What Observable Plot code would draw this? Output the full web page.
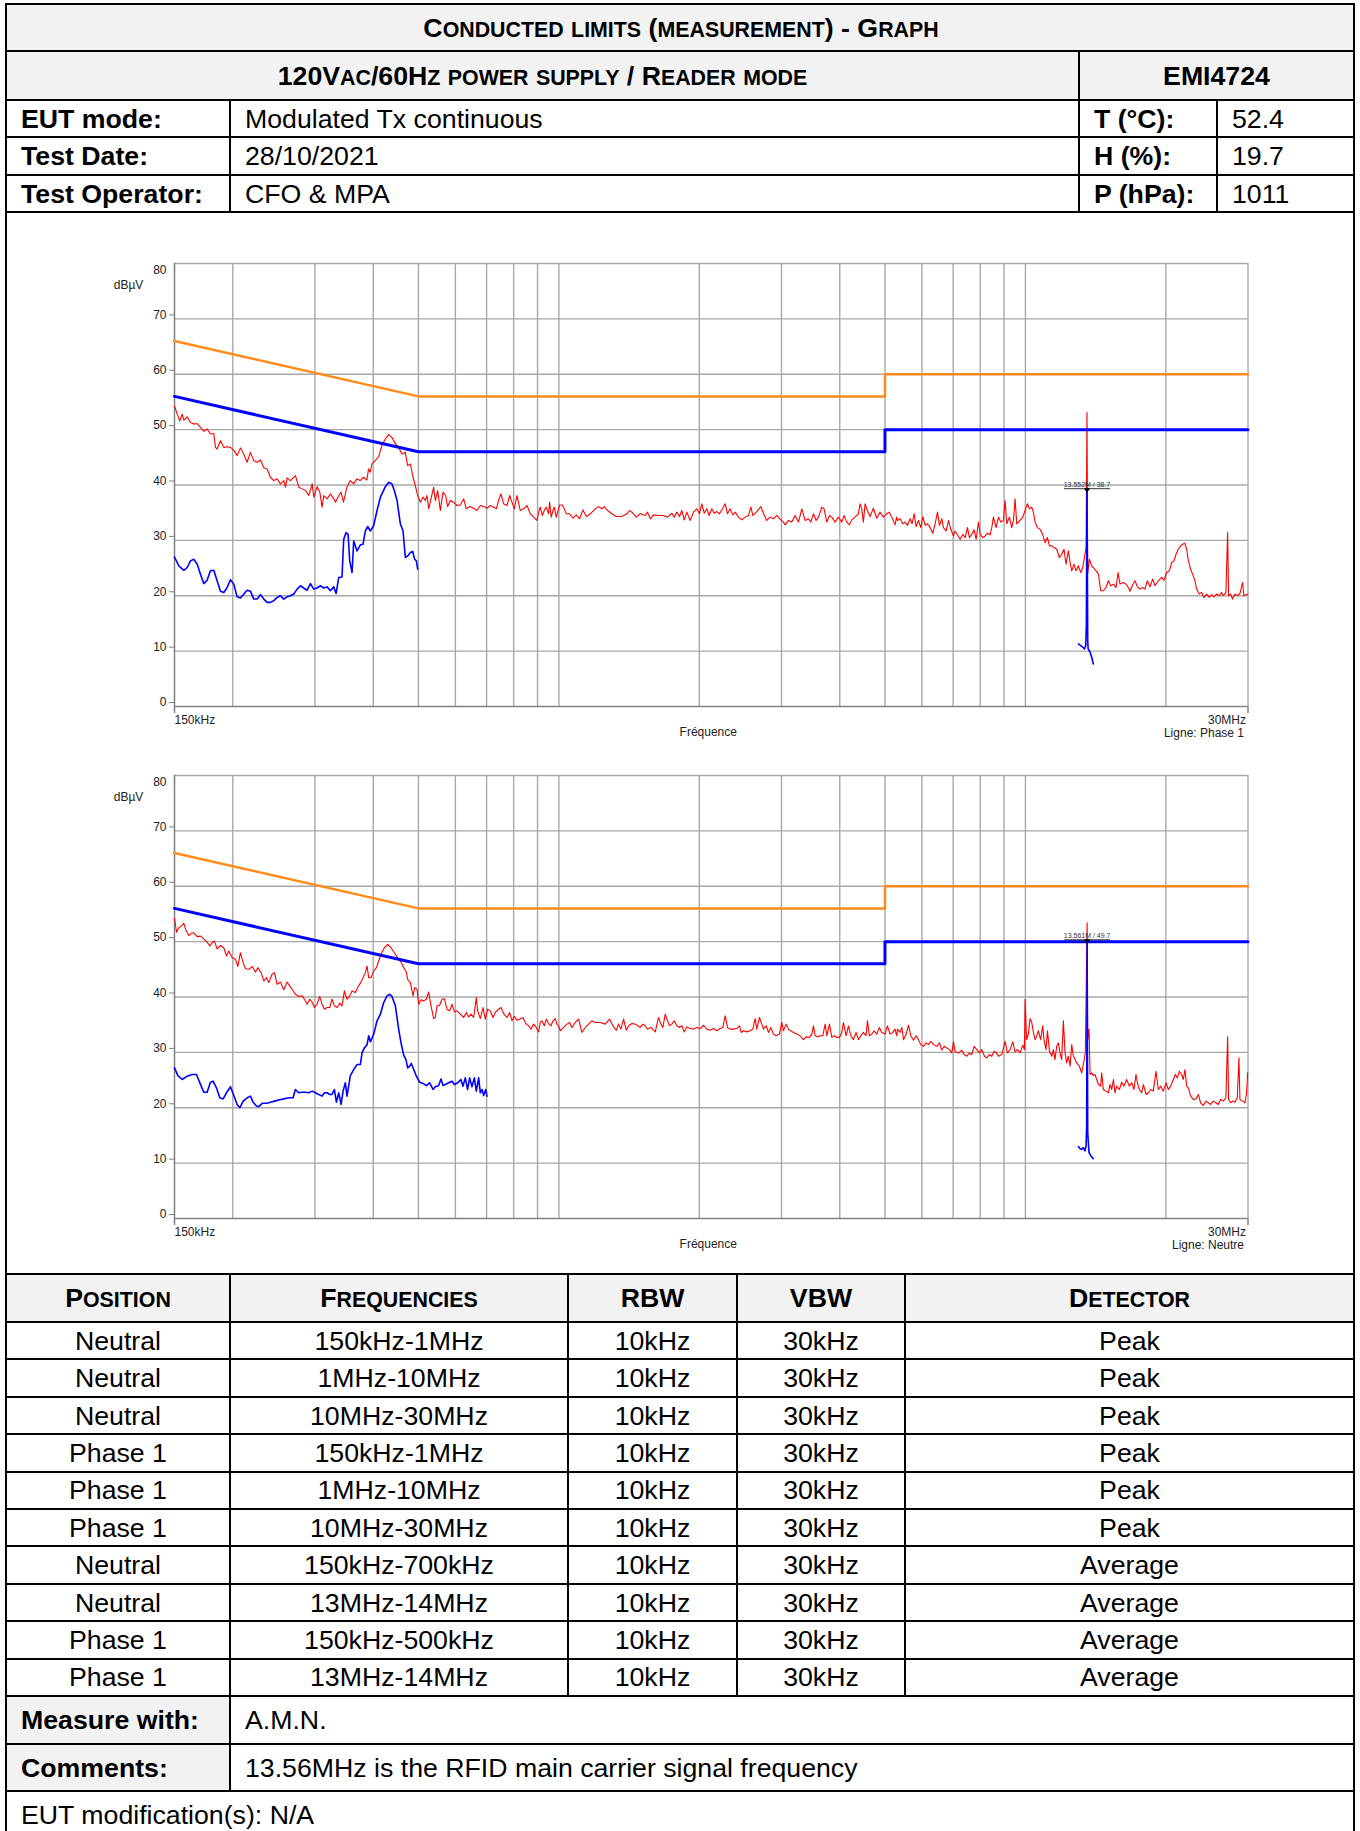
<!DOCTYPE html>
<html><head><meta charset="utf-8">
<script src="https://cdn.jsdelivr.net/npm/d3@7"></script>
<script src="https://cdn.jsdelivr.net/npm/@observablehq/plot@0.6"></script>
<style>
html,body{margin:0;padding:0;background:#fff;}
#page{position:relative;width:1360px;height:1831px;overflow:hidden;font-family:"Liberation Sans",Arial,Helvetica,sans-serif;color:#000;}
.tx{position:absolute;font-size:26.7px;line-height:1;white-space:nowrap;}
</style></head><body>
<div id="page"></div>
<script>
// ---------- chart data (frequency in MHz, level in dBµV) ----------
const xGrid = [0.2,0.3,0.4,0.5,0.6,0.7,0.8,0.9,1,2,3,4,5,6,7,8,9,10,20,30];
const yGrid = [10,20,30,40,50,60,70,80];
const yTickLabels = [0,10,20,30,40,50,60,70];
const yTopLabel = [80];
const xEnds = [0.15,30];
const qpLimit = [[0.15,66],[0.5,56],[5,56],[5,60],[30,60]];
const avLimit = [[0.15,56],[0.5,46],[5,46],[5,50],[30,50]];

const phase1Peak = [[0.150,54.3],[0.152,52.8],[0.154,51.6],[0.1558,52.8],[0.1571,51.7],[0.1597,52.3],[0.1623,51.3],[0.165,51.0],[0.1677,51.1],[0.1705,50.4],[0.1733,49.7],[0.1762,50.1],[0.1791,49.2],[0.1821,49.3],[0.1836,46.8],[0.1851,46.5],[0.1882,48.0],[0.1913,46.8],[0.1945,46.9],[0.1977,46.8],[0.201,46.3],[0.2043,45.3],[0.2077,46.7],[0.2111,45.6],[0.2146,44.1],[0.2182,45.9],[0.2218,44.4],[0.2255,44.1],[0.2292,44.5],[0.233,43.1],[0.2369,42.9],[0.2408,41.4],[0.2448,40.8],[0.2489,41.1],[0.253,40.2],[0.2572,40.8],[0.2594,39.6],[0.2615,41.3],[0.2658,40.8],[0.2725,41.7],[0.277,39.6],[0.2816,39.3],[0.2863,39.0],[0.291,38.1],[0.2959,40.2],[0.2983,37.8],[0.3033,39.7],[0.3073,38.7],[0.3108,36.0],[0.3134,38.1],[0.3186,37.5],[0.3239,38.4],[0.3293,37.5],[0.332,36.9],[0.3375,38.1],[0.3411,38.7],[0.3455,36.9],[0.3513,39.6],[0.3571,40.8],[0.363,40.2],[0.369,41.1],[0.3752,40.8],[0.3814,41.4],[0.3877,40.9],[0.3909,42.9],[0.3942,42.3],[0.3974,43.8],[0.404,44.4],[0.4107,45.1],[0.4175,47.1],[0.4244,48.3],[0.4315,49.1],[0.4386,48.6],[0.4459,47.5],[0.4533,46.8],[0.4608,45.6],[0.4685,45.9],[0.4741,43.5],[0.4804,43.8],[0.4868,41.4],[0.4924,39.9],[0.4981,38.1],[0.5047,36.9],[0.5114,37.8],[0.5173,37.2],[0.5216,38.1],[0.5259,35.7],[0.532,37.5],[0.539,39.6],[0.5435,37.2],[0.5498,39.0],[0.5571,35.4],[0.5645,38.7],[0.5719,38.1],[0.5776,36.1],[0.5853,37.2],[0.5949,36.9],[0.6048,36.3],[0.6148,36.4],[0.6251,37.5],[0.6333,35.7],[0.6438,36.1],[0.6567,35.8],[0.6675,35.4],[0.6786,36.3],[0.6898,36.1],[0.7012,35.8],[0.713,36.3],[0.7246,36.0],[0.7342,35.7],[0.7427,37.2],[0.7513,38.4],[0.7612,36.6],[0.7739,36.3],[0.7842,38.1],[0.7932,36.9],[0.8024,35.7],[0.813,38.1],[0.8264,35.4],[0.8402,35.7],[0.8541,36.3],[0.8684,34.8],[0.8827,34.2],[0.8972,33.6],[0.9091,35.7],[0.9123,36.0],[0.9214,34.5],[0.9305,35.4],[0.9397,36.0],[0.9506,34.8],[0.9552,36.9],[0.9632,34.2],[0.9712,35.4],[0.9775,36.0],[0.9872,34.2],[0.9987,35.7],[1.0035,36.4],[1.0152,36.4],[1.0235,36.0],[1.0371,34.8],[1.0544,34.8],[1.0718,34.0],[1.0895,34.6],[1.1077,33.9],[1.1261,35.5],[1.1448,34.3],[1.1675,34.8],[1.1967,35.7],[1.2166,36.1],[1.2367,35.7],[1.251,36.1],[1.2716,35.4],[1.2991,34.8],[1.3273,34.3],[1.365,34.3],[1.3991,34.8],[1.4175,35.4],[1.4339,35.1],[1.465,34.2],[1.4939,34.8],[1.5312,34.5],[1.5489,35.1],[1.5694,33.9],[1.5956,34.6],[1.6354,34.5],[1.6761,34.5],[1.7096,34.2],[1.7467,34.9],[1.7665,34.2],[1.7902,35.1],[1.8138,34.3],[1.8348,35.4],[1.856,33.7],[1.8806,35.1],[1.9116,33.6],[1.9436,35.1],[1.9757,35.7],[2.0018,34.8],[2.0249,36.6],[2.0484,34.9],[2.0755,35.7],[2.0995,34.5],[2.1272,35.7],[2.1518,34.9],[2.1803,35.2],[2.2096,34.8],[2.2425,35.7],[2.2721,36.6],[2.2984,34.8],[2.3288,35.7],[2.3595,34.6],[2.3869,35.1],[2.4267,34.2],[2.4668,33.7],[2.5075,34.2],[2.5494,34.5],[2.579,36.0],[2.6047,34.5],[2.6562,35.2],[2.7093,36.1],[2.7448,34.9],[2.7902,33.6],[2.8368,34.2],[2.8837,33.9],[2.9319,34.5],[2.9899,33.7],[3.0294,33.3],[3.0546,32.8],[3.1057,33.6],[3.1569,33.3],[3.209,34.5],[3.2626,33.3],[3.3165,35.7],[3.3719,33.6],[3.4276,33.9],[3.4673,33.3],[3.5131,34.8],[3.5596,33.6],[3.6007,34.2],[3.6609,36.0],[3.7025,35.7],[3.7524,33.3],[3.8016,34.5],[3.8456,34.2],[3.9089,33.3],[3.9743,34.2],[4.0399,33.3],[4.0866,34.5],[4.1408,33.3],[4.1949,32.8],[4.2434,33.7],[4.3144,34.2],[4.3855,34.8],[4.4221,36.6],[4.4578,35.7],[4.4949,33.3],[4.5324,36.6],[4.5849,35.4],[4.6455,34.3],[4.7219,35.8],[4.8009,34.0],[4.8801,35.1],[4.9605,34.2],[5.0433,34.8],[5.11,35.1],[5.1692,34.2],[5.2545,32.8],[5.2983,34.2],[5.318,33.6],[5.388,33.9],[5.46,33.0],[5.523,33.3],[5.587,32.7],[5.661,33.9],[5.718,33.0],[5.774,34.8],[5.831,32.5],[5.899,33.6],[5.967,32.3],[6.027,34.3],[6.097,32.7],[6.167,33.0],[6.249,32.3],[6.331,31.3],[6.404,33.0],[6.479,35.1],[6.543,32.7],[6.619,33.9],[6.673,32.3],[6.763,31.7],[6.841,33.6],[6.92,32.0],[7.012,30.8],[7.069,31.7],[7.151,31.0],[7.246,30.2],[7.343,31.1],[7.427,30.5],[7.512,32.3],[7.586,30.5],[7.674,31.1],[7.763,31.9],[7.841,30.2],[7.932,33.3],[7.998,31.1],[8.103,30.5],[8.197,30.8],[8.292,31.3],[8.401,31.0],[8.471,32.3],[8.539,34.2],[8.654,32.3],[8.754,34.2],[8.853,33.3],[8.972,33.6],[9.045,37.2],[9.121,33.0],[9.241,34.2],[9.348,32.3],[9.426,33.6],[9.504,37.5],[9.581,33.0],[9.741,33.6],[9.87,34.2],[9.984,35.4],[10.1,36.6],[10.2,35.7],[10.32,36.0],[10.4,35.1],[10.49,33.3],[10.61,32.3],[10.75,32.0],[10.89,31.1],[11.02,29.6],[11.15,30.5],[11.26,29.0],[11.39,29.0],[11.52,28.7],[11.67,28.4],[11.83,26.9],[11.96,27.5],[12.1,28.4],[12.22,25.7],[12.36,28.1],[12.47,26.0],[12.57,24.5],[12.71,25.7],[12.84,24.5],[12.99,25.4],[13.14,24.2],[13.27,25.1],[13.38,26.9],[13.49,28.7],[13.552,53.1],[13.6,24.0],[13.71,26.6],[13.87,25.4],[13.98,25.1],[14.17,24.5],[14.34,23.9],[14.5,20.9],[14.69,20.9],[14.89,21.5],[15.06,22.7],[15.23,21.8],[15.44,22.1],[15.64,21.5],[15.8,24.2],[15.95,22.1],[16.21,22.4],[16.43,22.1],[16.62,21.5],[16.76,20.8],[16.98,22.0],[17.18,22.7],[17.38,21.6],[17.6,21.2],[17.84,21.5],[18.04,21.2],[18.25,22.7],[18.49,21.6],[18.74,23.0],[18.96,21.8],[19.27,22.7],[19.59,23.3],[19.82,22.8],[20.08,24.2],[20.35,24.5],[20.58,26.0],[20.82,26.3],[21.03,27.5],[21.27,28.4],[21.52,29.0],[21.73,29.3],[21.95,29.5],[22.17,28.4],[22.35,26.3],[22.6,24.8],[22.83,23.9],[23.09,22.7],[23.28,21.2],[23.59,20.3],[23.86,20.6],[24.14,19.7],[24.46,20.3],[24.78,19.7],[25.07,20.2],[25.36,19.8],[25.69,20.3],[26.03,20.0],[26.33,20.6],[26.55,20.0],[26.9,20.6],[27.13,31.4],[27.26,20.0],[27.53,20.3],[27.8,19.4],[28.13,20.3],[28.45,20.0],[28.83,20.4],[29.21,22.4],[29.4,20.0],[30,20.3]];

const phase1AvgLow = [[0.150,27.0],[0.1532,25.4],[0.1571,24.6],[0.1597,25.1],[0.1623,26.3],[0.165,26.6],[0.1678,25.7],[0.1705,23.9],[0.1733,22.2],[0.1762,22.8],[0.1791,24.5],[0.1821,24.6],[0.1851,22.7],[0.1882,20.8],[0.1913,20.6],[0.1945,21.5],[0.1977,22.9],[0.201,22.1],[0.2043,19.8],[0.2077,19.6],[0.2112,20.3],[0.2147,21.0],[0.2183,20.8],[0.2218,19.4],[0.2255,19.4],[0.2293,20.2],[0.2331,19.4],[0.2369,18.8],[0.2408,18.8],[0.2448,19.1],[0.2489,19.7],[0.253,20.0],[0.2572,19.4],[0.2615,19.8],[0.2658,20.0],[0.2702,20.3],[0.2747,21.2],[0.2793,21.8],[0.2838,21.4],[0.2886,21.0],[0.2934,22.2],[0.2982,21.2],[0.3032,21.4],[0.3082,21.8],[0.3133,21.4],[0.3185,21.6],[0.3238,20.9],[0.3291,21.6],[0.333,20.4],[0.3374,23.3],[0.3429,23.4],[0.3458,30.2],[0.3498,31.4],[0.3533,31.1],[0.3562,26.3],[0.3603,24.2],[0.3633,29.9],[0.3663,29.0],[0.3693,28.1],[0.3754,29.2],[0.3804,29.3],[0.3848,31.7],[0.3892,32.5],[0.3944,31.7],[0.401,32.7],[0.4076,35.4],[0.4144,37.8],[0.4247,39.7],[0.4317,40.5],[0.4388,40.2],[0.4439,39.0],[0.4499,37.2],[0.4573,33.0],[0.4634,31.7],[0.4687,26.9],[0.4741,27.2],[0.4804,27.8],[0.486,28.0],[0.4908,26.6],[0.4949,26.3],[0.4981,24.8]];
const phase1AvgRfid = [[12.99,11.3],[13.14,11.0],[13.27,10.7],[13.38,10.4],[13.47,11.0],[13.51,14.9],[13.552,38.7],[13.6,12.0],[13.63,10.4],[13.76,9.8],[13.87,8.9],[13.98,7.7]];
const phase1Marker = [{f:13.552, db:38.7, label:"13.552M / 38.7"}];

const neutralPeak = [[0.150,54.2],[0.1515,51.7],[0.1532,52.5],[0.155,52.8],[0.1571,53.3],[0.1584,52.2],[0.161,51.1],[0.1628,51.5],[0.165,51.6],[0.1678,50.9],[0.1705,51.0],[0.1733,50.5],[0.1762,49.9],[0.1786,49.2],[0.1806,49.8],[0.1827,50.1],[0.1851,48.7],[0.1882,49.3],[0.1913,48.9],[0.1939,47.4],[0.1961,48.3],[0.1994,47.1],[0.2027,46.8],[0.205,45.5],[0.2077,48.0],[0.2105,46.2],[0.2129,45.1],[0.2165,45.0],[0.2201,45.5],[0.2237,44.5],[0.2263,45.3],[0.23,44.4],[0.2331,42.9],[0.2362,43.5],[0.2389,42.6],[0.2428,44.1],[0.2457,44.4],[0.2489,42.3],[0.253,42.7],[0.2572,41.3],[0.2615,42.7],[0.2649,42.0],[0.268,41.4],[0.2724,40.5],[0.2769,40.1],[0.2816,40.2],[0.2848,39.6],[0.2886,38.7],[0.2924,39.6],[0.2958,39.1],[0.2992,38.1],[0.3032,38.7],[0.3072,40.1],[0.3107,38.7],[0.3143,37.8],[0.3185,38.1],[0.3227,38.1],[0.3264,39.6],[0.3302,38.4],[0.3346,38.1],[0.339,38.9],[0.3429,38.4],[0.3469,41.1],[0.3515,39.6],[0.3562,40.2],[0.3603,41.1],[0.3663,40.8],[0.3705,41.7],[0.3754,42.5],[0.3804,43.5],[0.3848,44.4],[0.388,45.6],[0.3912,43.5],[0.3957,43.5],[0.401,44.7],[0.4063,45.3],[0.411,46.5],[0.4157,47.7],[0.4226,48.9],[0.4296,49.5],[0.4367,48.9],[0.4439,48.0],[0.4514,47.1],[0.4588,46.3],[0.4649,45.3],[0.471,44.5],[0.4741,43.2],[0.4804,42.6],[0.4868,40.2],[0.4908,41.7],[0.4965,41.4],[0.5006,38.7],[0.5064,39.5],[0.5131,39.3],[0.5199,39.6],[0.5259,40.9],[0.532,38.4],[0.539,36.1],[0.5435,36.3],[0.5479,38.4],[0.5552,38.5],[0.5616,39.6],[0.5681,39.7],[0.5756,37.8],[0.5834,37.5],[0.5901,38.7],[0.597,37.3],[0.6048,37.5],[0.6148,36.9],[0.6251,36.3],[0.6333,37.2],[0.6407,36.4],[0.6482,36.9],[0.6567,36.3],[0.6654,39.9],[0.6697,37.5],[0.6786,36.1],[0.6876,38.1],[0.6956,36.0],[0.7036,37.8],[0.713,37.5],[0.7223,36.3],[0.7306,37.2],[0.7427,37.8],[0.7513,38.1],[0.7612,37.0],[0.7739,36.3],[0.7842,37.2],[0.7932,35.7],[0.8024,36.5],[0.813,35.8],[0.8238,36.0],[0.8373,36.3],[0.8513,35.1],[0.8612,34.8],[0.8711,34.2],[0.8827,35.1],[0.8943,34.5],[0.9047,33.7],[0.9122,35.4],[0.9199,35.7],[0.9305,34.8],[0.9397,36.0],[0.9506,35.2],[0.9616,34.8],[0.9712,35.7],[0.9826,36.1],[0.9905,35.1],[0.9987,34.8],[1.0069,33.9],[1.0235,34.5],[1.0405,35.1],[1.0544,35.4],[1.0667,34.5],[1.0842,35.4],[1.1021,36.0],[1.1205,33.6],[1.139,34.5],[1.158,35.1],[1.1771,35.7],[1.1967,35.4],[1.2265,35.4],[1.2573,35.1],[1.2842,36.0],[1.3056,34.8],[1.3273,34.0],[1.3426,35.1],[1.3582,34.2],[1.3762,36.0],[1.3943,34.0],[1.4105,34.8],[1.4339,35.2],[1.4576,35.1],[1.4745,34.8],[1.4939,34.5],[1.5137,35.1],[1.5312,34.8],[1.5489,34.2],[1.5748,34.5],[1.6089,33.7],[1.6354,36.3],[1.6543,35.1],[1.6708,34.5],[1.6902,36.9],[1.7096,35.7],[1.7266,34.8],[1.7467,35.1],[1.7665,35.7],[1.7902,34.8],[1.8138,34.5],[1.8348,34.8],[1.856,33.7],[1.8806,34.6],[1.9116,34.3],[1.9436,34.2],[1.9757,34.5],[2.0082,34.3],[2.0419,34.9],[2.0755,34.2],[2.1101,34.0],[2.1451,34.3],[2.1803,33.9],[2.2168,34.3],[2.246,34.5],[2.2721,36.6],[2.2984,34.5],[2.3288,34.2],[2.3672,34.2],[2.4067,34.3],[2.4385,34.8],[2.4588,33.6],[2.4874,33.9],[2.5283,33.7],[2.57,33.9],[2.6047,34.2],[2.6346,36.1],[2.6562,34.2],[2.6912,36.3],[2.7224,35.1],[2.7448,34.2],[2.7812,34.8],[2.8134,33.6],[2.846,34.5],[2.8837,33.3],[2.9217,33.0],[2.9706,33.3],[3.0049,35.4],[3.0294,33.9],[3.07,35.1],[3.1057,34.2],[3.1408,33.9],[3.1832,33.6],[3.2358,33.3],[3.2891,33.0],[3.3441,32.3],[3.3882,32.8],[3.4442,32.7],[3.484,33.3],[3.5131,34.8],[3.5423,33.0],[3.5834,32.8],[3.6308,33.0],[3.6787,33.0],[3.7214,35.1],[3.7524,33.0],[3.8016,35.1],[3.8456,32.7],[3.8901,33.0],[3.9416,32.7],[3.9937,32.7],[4.0399,33.6],[4.0735,35.4],[4.1275,33.0],[4.1753,34.8],[4.2236,33.0],[4.2793,32.3],[4.3358,33.6],[4.3855,32.3],[4.4367,33.0],[4.4949,33.6],[4.5543,33.0],[4.5849,35.7],[4.6306,33.0],[4.6843,33.3],[4.7371,33.9],[4.8009,33.3],[4.8643,34.5],[4.9206,33.6],[5.0017,33.3],[5.0597,34.8],[5.1264,33.3],[5.1942,33.6],[5.2545,34.2],[5.2983,33.0],[5.318,34.2],[5.388,33.6],[5.434,34.5],[5.479,32.3],[5.551,33.3],[5.615,34.9],[5.68,33.0],[5.756,32.2],[5.831,33.0],[5.899,32.3],[5.967,31.4],[6.046,31.1],[6.127,31.7],[6.198,31.4],[6.269,32.0],[6.352,31.4],[6.458,31.1],[6.543,31.7],[6.619,30.4],[6.696,31.1],[6.785,30.8],[6.874,30.5],[6.954,29.9],[7.012,31.9],[7.069,30.1],[7.187,29.9],[7.306,30.4],[7.39,29.6],[7.488,29.3],[7.586,29.9],[7.674,29.6],[7.763,31.1],[7.867,30.5],[7.971,29.9],[8.064,30.5],[8.171,29.3],[8.265,29.0],[8.374,29.6],[8.471,29.3],[8.569,30.2],[8.683,29.8],[8.754,29.3],[8.9,29.6],[9.045,32.0],[9.15,29.9],[9.271,30.5],[9.396,31.9],[9.504,30.1],[9.613,30.5],[9.741,29.9],[9.87,31.3],[9.95,30.5],[9.984,39.6],[10.06,32.3],[10.15,33.3],[10.23,36.1],[10.32,35.4],[10.4,33.6],[10.49,32.3],[10.58,33.0],[10.66,33.9],[10.78,32.3],[10.89,34.8],[10.96,32.3],[11.07,30.5],[11.15,33.9],[11.26,30.2],[11.39,29.3],[11.48,30.5],[11.57,28.7],[11.67,31.1],[11.77,31.7],[11.86,29.9],[11.96,28.7],[12.06,35.7],[12.16,29.9],[12.26,28.1],[12.36,29.3],[12.47,27.5],[12.57,31.4],[12.67,29.3],[12.78,28.7],[12.88,28.1],[13.05,27.5],[13.2,26.3],[13.35,28.4],[13.44,29.9],[13.561,53.4],[13.6,32.3],[13.69,34.2],[13.76,26.0],[13.87,26.3],[13.98,25.8],[14.1,26.0],[14.22,25.1],[14.34,24.2],[14.5,23.9],[14.57,26.3],[14.69,23.3],[14.89,23.0],[15.06,22.7],[15.18,24.2],[15.31,23.3],[15.44,25.1],[15.56,22.7],[15.69,23.9],[15.9,23.3],[16.08,24.6],[16.27,23.9],[16.48,25.1],[16.7,23.9],[16.9,24.5],[17.09,23.3],[17.26,26.0],[17.38,24.5],[17.55,23.3],[17.75,22.7],[17.9,24.2],[18.14,22.4],[18.35,22.7],[18.55,23.3],[18.8,23.0],[19.05,26.6],[19.27,23.3],[19.5,23.9],[19.75,23.0],[20.02,24.5],[20.25,23.3],[20.48,23.9],[20.75,25.1],[20.96,26.0],[21.17,25.4],[21.38,26.6],[21.63,26.0],[21.8,25.1],[21.98,26.9],[22.17,23.9],[22.35,23.6],[22.6,22.1],[22.9,21.5],[23.21,21.6],[23.48,22.4],[23.74,20.9],[24.06,20.4],[24.38,21.2],[24.66,20.9],[24.95,20.6],[25.28,21.2],[25.61,20.9],[25.91,20.6],[26.21,21.5],[26.55,21.2],[26.9,21.8],[27.13,32.8],[27.26,21.5],[27.53,20.9],[27.8,21.2],[28.13,21.0],[28.45,21.8],[28.69,29.0],[28.83,21.5],[29.21,21.2],[29.55,20.9],[29.79,22.7],[29.95,26.3]];

const neutralAvgLow = [[0.150,27.2],[0.1525,25.8],[0.1558,25.1],[0.1597,25.7],[0.1637,26.0],[0.1672,26.0],[0.17,24.5],[0.1733,22.8],[0.1762,22.8],[0.1791,24.6],[0.1815,24.8],[0.1845,23.6],[0.1876,21.8],[0.1907,21.6],[0.1939,22.7],[0.1977,23.8],[0.201,22.2],[0.2043,20.6],[0.2071,20.0],[0.2105,21.2],[0.2147,21.8],[0.2183,22.1],[0.2211,21.0],[0.2248,20.3],[0.2274,20.2],[0.2312,20.8],[0.2369,20.8],[0.2408,21.0],[0.2457,21.2],[0.251,21.4],[0.2572,21.6],[0.2636,21.8],[0.2693,21.8],[0.2724,23.3],[0.2769,22.7],[0.2816,22.8],[0.2862,22.8],[0.2909,22.7],[0.2958,23.0],[0.3007,22.7],[0.3057,22.4],[0.3107,22.1],[0.3143,22.7],[0.3185,22.7],[0.3227,22.4],[0.3264,22.4],[0.3302,23.3],[0.3335,21.0],[0.3374,22.7],[0.3413,20.6],[0.3447,23.0],[0.3486,24.5],[0.3515,22.1],[0.3573,25.8],[0.3633,26.9],[0.3693,27.8],[0.3754,27.8],[0.3785,29.9],[0.3829,30.8],[0.388,31.4],[0.3912,33.0],[0.3944,31.9],[0.401,33.3],[0.4076,35.7],[0.4144,36.9],[0.4212,39.0],[0.4282,40.2],[0.4338,40.5],[0.4388,40.1],[0.4462,38.4],[0.4535,34.2],[0.4588,31.7],[0.4649,29.5],[0.4702,28.7],[0.4741,27.2],[0.4788,27.5],[0.4828,28.0],[0.4884,26.9],[0.4949,25.7],[0.5031,24.6],[0.5114,24.4],[0.5199,24.0],[0.5285,24.5],[0.5373,23.3],[0.5435,23.8],[0.5525,24.0],[0.5589,25.2],[0.5645,24.0],[0.571,24.2],[0.5804,24.5],[0.5901,24.8],[0.597,24.2],[0.6068,24.5],[0.6167,25.1],[0.6229,23.9],[0.6301,25.4],[0.6374,23.3],[0.6438,25.4],[0.6512,23.8],[0.6588,25.4],[0.6654,23.0],[0.673,25.4],[0.6786,22.7],[0.6841,23.3],[0.6898,22.2],[0.6967,23.3],[0.7012,22.1]];
const neutralAvgRfid = [[12.99,13.0],[13.1,12.6],[13.2,12.5],[13.31,12.8],[13.42,12.2],[13.49,13.1],[13.53,16.7],[13.561,49.7],[13.6,15.5],[13.69,11.9],[13.82,11.3],[13.98,10.8]];
const neutralMarker = [{f:13.561, db:49.7, label:"13.561M / 49.7"}];

// ---------- table content ----------
const tablePositions = ["Neutral","Neutral","Neutral","Phase 1","Phase 1","Phase 1","Neutral","Neutral","Phase 1","Phase 1"];
const tableFrequencies = ["150kHz-1MHz","1MHz-10MHz","10MHz-30MHz","150kHz-1MHz","1MHz-10MHz","10MHz-30MHz","150kHz-700kHz","13MHz-14MHz","150kHz-500kHz","13MHz-14MHz"];
const tableRbw = Array(10).fill("10kHz");
const tableVbw = Array(10).fill("30kHz");
const tableDetector = ["Peak","Peak","Peak","Peak","Peak","Peak","Average","Average","Average","Average"];

// ---------- page frame ----------
const P = document.getElementById("page");
function box(x, y, w, h, color) {
  const d = document.createElement("div");
  d.style.cssText = `position:absolute;left:${x}px;top:${y}px;width:${w}px;height:${h}px;background:${color}`;
  P.appendChild(d);
}
function H(y, x1 = 5, x2 = 1355, t = 2) { box(x1, y - t / 2, x2 - x1, t, "#000"); }
function V(x, y1, y2, t = 2) { box(x - t / 2, y1, t, y2 - y1, "#000"); }
function sc(s) { return s.replace(/[a-z]+/g, m => `<span style="font-size:0.8em">${m.toUpperCase()}</span>`); }
function T(html, x, y, o = {}) {
  const d = document.createElement("div");
  d.className = "tx";
  d.innerHTML = html;
  d.style.left = x + "px";
  d.style.top = y + "px";
  d.style.transform = `translate(${o.center ? "-50%" : "0"},-50%)`;
  if (o.bold) d.style.fontWeight = "bold";
  P.appendChild(d);
}
const GRAY = "#f2f2f2";
box(6, 4, 1348, 96, GRAY);
box(6, 1274, 1348, 48, GRAY);
box(6, 1696, 224, 95, GRAY);

// horizontal rules
[4, 51, 100, 137, 174.5, 212, 1274, 1322].forEach(y => H(y));
for (let i = 1; i <= 10; i++) H(1322 + 37.4 * i);
[1744, 1791].forEach(y => H(y));
// vertical rules
V(6, 3, 1831); V(1354, 3, 1831);
V(1079, 51, 212); V(230, 100, 212); V(1217, 100, 212);
[230, 568, 737, 905].forEach(x => V(x, 1274, 1696));
V(230, 1696, 1791);

// header text
T(sc("Conducted limits (measurement) - Graph"), 681, 27.5, {center: true, bold: true});
T(sc("120Vac/60Hz power supply / Reader mode"), 542.5, 76, {center: true, bold: true});
T("EMI4724", 1216.5, 76, {center: true, bold: true});
const infoRows = [["EUT mode:", "Modulated Tx continuous", "T (°C):", "52.4"], ["Test Date:", "28/10/2021", "H (%):", "19.7"], ["Test Operator:", "CFO &amp; MPA", "P (hPa):", "1011"]];
const infoY = [118.5, 156, 193.5];
infoRows.forEach((r, i) => {
  T(r[0], 21, infoY[i], {bold: true});
  T(r[1], 245, infoY[i]);
  T(r[2], 1094, infoY[i], {bold: true});
  T(r[3], 1232, infoY[i]);
});

// bottom table
const colCenters = [118, 399, 652.5, 821, 1129.5];
[sc("Position"), sc("Frequencies"), "RBW", "VBW", sc("Detector")].forEach((h, j) => T(h, colCenters[j], 1298, {center: true, bold: true}));
for (let i = 0; i < 10; i++) {
  const y = 1322 + 37.4 * (i + 0.5);
  [tablePositions[i], tableFrequencies[i], tableRbw[i], tableVbw[i], tableDetector[i]].forEach((t, j) => T(t, colCenters[j], y, {center: true}));
}
T("Measure with:", 21, 1720, {bold: true});
T("A.M.N.", 245, 1720);
T("Comments:", 21, 1767.5, {bold: true});
T("13.56MHz is the RFID main carrier signal frequency", 245, 1767.5);
T("EUT modification(s): N/A", 21, 1815);

// ---------- charts ----------
const RED = "#ff0000", BLUE = "#0000ff", ORANGE = "#ff8c1a", GRID = "#a8a8a8", AXIS = "#808080";
const markerSymbol = {draw(ctx) {
  ctx.moveTo(-23, -3.5); ctx.lineTo(23, -3.5);
  ctx.moveTo(-2.5, -3.5); ctx.lineTo(2.5, -3.5); ctx.lineTo(0, 0); ctx.closePath();
}};
const fx = d => d[0], fy = d => d[1];
function chart({peak, avgSegments, marker, lineLabel, marginTop}) {
  return Plot.plot({
    width: 1360, height: marginTop + 443 + 40,
    marginLeft: 174, marginRight: 112.5, marginTop, marginBottom: 40,
    x: {type: "log", domain: [0.15, 30]},
    y: {domain: [0, 80]},
    style: {fontFamily: "'Liberation Sans', Arial, sans-serif", fontSize: "12px", background: "transparent", overflow: "visible", color: "#222"},
    marks: [
      Plot.ruleX(xGrid, {stroke: GRID, strokeWidth: 1.4}),
      Plot.ruleY(yGrid, {stroke: GRID, strokeWidth: 1.4}),
      Plot.ruleY([0], {stroke: AXIS, strokeWidth: 1.5}),
      Plot.ruleX([0.15], {stroke: AXIS, strokeWidth: 1.5}),
      Plot.axisX({ticks: xEnds, tickSize: 7, tickFormat: () => "", stroke: AXIS, strokeWidth: 1.5, label: null}),
      Plot.axisY({ticks: yTickLabels, tickSize: 5, tickPadding: 3, dy: -4, stroke: AXIS, fill: "#222", fontSize: 12, label: null}),
      Plot.axisY({ticks: yTopLabel, tickSize: 0, tickPadding: 8, dy: 7, fill: "#222", fontSize: 12, label: null}),
      Plot.line(peak, {x: fx, y: fy, stroke: RED, strokeWidth: 1.1}),
      ...avgSegments.map(seg => Plot.line(seg, {x: fx, y: fy, stroke: BLUE, strokeWidth: 1.6})),
      Plot.line(qpLimit, {x: fx, y: fy, stroke: ORANGE, strokeWidth: 2.5}),
      Plot.line(avLimit, {x: fx, y: fy, stroke: BLUE, strokeWidth: 3}),
      Plot.dot(marker, {x: "f", y: "db", symbol: markerSymbol, r: 3, fill: "#000", stroke: "#000", strokeWidth: 0.8}),
      Plot.text(marker, {x: "f", y: "db", text: "label", dy: -7.5, fontSize: 7, fill: "#333"}),
      Plot.text(["dBµV"], {frameAnchor: "top-left", text: d => d, textAnchor: "middle", dx: -46, dy: 17, fontSize: 12}),
      Plot.text(["150kHz"], {frameAnchor: "bottom-left", text: d => d, textAnchor: "start", dy: 17.5, fontSize: 12}),
      Plot.text(["30MHz"], {frameAnchor: "bottom-right", text: d => d, textAnchor: "end", dx: -2, dy: 17.5, fontSize: 12}),
      Plot.text(["Fréquence"], {frameAnchor: "bottom", text: d => d, dx: -3, dy: 29.5, fontSize: 12}),
      Plot.text([lineLabel], {frameAnchor: "bottom-right", text: d => d, textAnchor: "end", dx: -4, dy: 30.5, fontSize: 12})
    ]
  });
}
function place(svg, top) {
  const w = document.createElement("div");
  w.style.cssText = `position:absolute;left:0;top:${top}px;width:1360px;`;
  w.appendChild(svg);
  P.appendChild(w);
}
place(chart({peak: phase1Peak, avgSegments: [phase1AvgLow, phase1AvgRfid], marker: phase1Marker, lineLabel: "Ligne: Phase 1", marginTop: 31}), 232);
place(chart({peak: neutralPeak, avgSegments: [neutralAvgLow, neutralAvgRfid], marker: neutralMarker, lineLabel: "Ligne: Neutre", marginTop: 29}), 746);
</script>
</body></html>
